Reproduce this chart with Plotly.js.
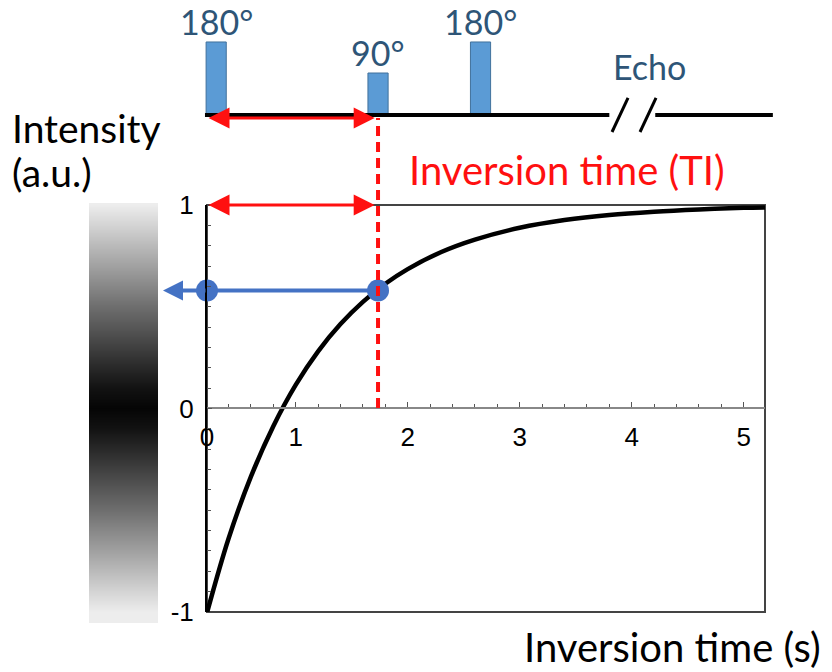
<!DOCTYPE html>
<html>
<head>
<meta charset="utf-8">
<script src="https://cdn.plot.ly/plotly-3.0.1.min.js"></script>
<style>html,body{margin:0;padding:0;background:#fff;}#chart{width:832px;height:672px;}</style>
</head>
<body>
<div id="chart"></div>
<script>
// ---- Recovery curve ----
const curveTime = [0.21, 0.4, 0.6, 0.8, 1.0, 1.2, 1.4, 1.6, 1.8, 2.0, 2.3, 2.6, 3.0, 3.4, 3.8, 4.2, 4.6, 5.0, 5.19];
const curveIntensity = [-1.0, -0.64, -0.335, -0.087, 0.116, 0.281, 0.415, 0.524, 0.613, 0.685, 0.769, 0.830, 0.888, 0.926, 0.951, 0.967, 0.978, 0.986, 0.988];

// ---- Chosen inversion time and its intensity ----
const axisStart = 0.208;
const axisEnd = 5.19;
const TI = 1.735;
const TIintensity = 0.58;
const readoutArrowTip = -0.185;

// ---- Axis tick labels ----
const xTickVals = [0.208, 1, 2, 3, 4, 5];
const xTickText = ['0', '1', '2', '3', '4', '5'];
const yTickVals = [-1, 0, 1];
const yTickText = ['-1', '0', '1'];

// ---- Pulse sequence ----
const pulseTime = [0.29, 1.735, 2.65];
const pulseHeight = [1, 0.575, 1];
const pulseLabels = ['180°', '90°', '180°'];
const timelineX = [0.19, 3.80, null, 4.21, 5.26];
const echoTime = 4.16;

// ---- Grey-scale bar (|intensity|) ----
const barLevels = [-1.06, -1.0, -0.9, -0.8, -0.7, -0.6, -0.5, -0.4, -0.3, -0.2, -0.1, 0, 0.1, 0.2, 0.3, 0.4, 0.5, 0.6, 0.7, 0.8, 0.9, 1.0, 1.01];

const blue = '#4472C4';
const red = '#FF1010';
const labelBlue = '#2E5577';
const FONT = 'Lato, "Open Sans", sans-serif';
const TICKFONT = 'Liberation Sans, Arial, sans-serif';

const barZ = barLevels.map(v => [Math.abs(v), Math.abs(v)]);

const traces = [
  {
    type: 'heatmap', xaxis: 'x2', yaxis: 'y2',
    x: [0, 1], y: barLevels, z: barZ,
    zmin: 0, zmax: 1, zsmooth: 'best', showscale: false,
    colorscale: [[0, '#050505'], [0.1, '#121212'], [0.5, '#6e6e6e'], [1, '#ededed']], hoverinfo: 'skip'
  },
  {
    type: 'scatter', mode: 'lines', x: curveTime, y: curveIntensity,
    line: {color: '#000', width: 4.5, shape: 'spline'}, hoverinfo: 'skip'
  },
  {
    type: 'scatter', mode: 'lines+markers', x: [axisStart, TI], y: [TIintensity, TIintensity],
    line: {color: blue, width: 4}, marker: {color: blue, size: 22},
    cliponaxis: false, hoverinfo: 'skip'
  },
  {
    type: 'bar', xaxis: 'x3', yaxis: 'y3', x: pulseTime, y: pulseHeight, width: 0.18,
    marker: {color: '#5B9BD5', line: {color: '#41719C', width: 1}}, hoverinfo: 'skip'
  },
  {
    type: 'scatter', mode: 'lines', xaxis: 'x3', yaxis: 'y3', x: timelineX, y: [0, 0, null, 0, 0],
    line: {color: '#000', width: 4}, connectgaps: false, hoverinfo: 'skip'
  },
  {
    type: 'scatter', mode: 'lines', xaxis: 'x3', yaxis: 'y3',
    x: [3.824, 3.967, null, 4.074, 4.217], y: [-0.233, 0.233, null, -0.233, 0.233],
    line: {color: '#000', width: 3}, hoverinfo: 'skip'
  }
];

function py(pixel) { return (672 - pixel) / 672; }

const annotations = [
  {xref: 'paper', yref: 'paper', x: 10 / 832, y: py(128), xanchor: 'left', yanchor: 'middle', text: 'Intensity', showarrow: false, font: {family: FONT, size: 39, color: '#000'}},
  {xref: 'paper', yref: 'paper', x: 10 / 832, y: py(172), xanchor: 'left', yanchor: 'middle', text: '(a.u.)', showarrow: false, font: {family: FONT, size: 39, color: '#000'}},
  {xref: 'paper', yref: 'paper', x: 567 / 832, y: py(170), xanchor: 'center', yanchor: 'middle', text: 'Inversion time (TI)', showarrow: false, font: {family: FONT, size: 40, color: red}},
  {xref: 'paper', yref: 'paper', x: 823 / 832, y: py(647), xanchor: 'right', yanchor: 'middle', text: 'Inversion time (s)', showarrow: false, font: {family: FONT, size: 40, color: '#000'}},
  {xref: 'x3', yref: 'y3', x: echoTime, y: 0.67, text: 'Echo', showarrow: false, xanchor: 'center', yanchor: 'middle', font: {family: FONT, size: 34, color: labelBlue}},
  // red arrow on timeline
  {xref: 'x3', yref: 'y3', axref: 'x3', ayref: 'y3', x: TI - 0.03, y: -0.04, ax: axisStart, ay: -0.04, text: '', showarrow: true,
   arrowside: 'end+start', arrowhead: 2, startarrowhead: 2, arrowsize: 1.4, startarrowsize: 1.4, arrowwidth: 3, arrowcolor: red, standoff: 0, startstandoff: 0},
  // red arrow inside plot at top
  {xref: 'x', yref: 'y', axref: 'x', ayref: 'y', x: TI - 0.03, y: 1, ax: axisStart, ay: 1, text: '', showarrow: true,
   arrowside: 'end+start', arrowhead: 2, startarrowhead: 2, arrowsize: 1.4, startarrowsize: 1.4, arrowwidth: 3, arrowcolor: red, standoff: 0, startstandoff: 0},
  // blue read-out arrow
  {xref: 'x3', yref: 'y', axref: 'x3', ayref: 'y', x: readoutArrowTip, y: TIintensity, ax: axisStart, ay: TIintensity, text: '', showarrow: true,
   arrowhead: 2, arrowsize: 1.0, arrowwidth: 4, arrowcolor: blue, standoff: 0}
];
pulseTime.forEach((t, i) => {
  annotations.push({xref: 'x3', yref: 'y3', x: t, y: pulseHeight[i], yshift: -1, text: pulseLabels[i], showarrow: false,
    xanchor: 'center', yanchor: 'bottom', borderpad: 0, font: {family: FONT, size: 34, color: labelBlue}});
});

const layout = {
  width: 832, height: 672,
  margin: {l: 0, r: 0, t: 0, b: 0},
  paper_bgcolor: '#fff', plot_bgcolor: 'rgba(0,0,0,0)',
  showlegend: false,
  xaxis: {
    domain: [207 / 832, 765 / 832], range: [axisStart, axisEnd], anchor: 'free', position: py(408),
    showline: true, linecolor: '#888', linewidth: 2, ticks: 'inside', ticklen: 5, tickcolor: '#555', tickwidth: 1,
    tickmode: 'array', tickvals: xTickVals, ticktext: xTickText, ticklabelstandoff: 6,
    tickfont: {family: TICKFONT, size: 26, color: '#000'},
    showgrid: false, zeroline: false,
    minor: {tickmode: 'linear', tick0: 0, dtick: 0.2, ticks: 'inside', ticklen: 3, tickcolor: '#555', showgrid: false}
  },
  yaxis: {
    domain: [py(612), py(205)], range: [-1, 1], anchor: 'x',
    showline: true, linecolor: '#000', linewidth: 2, ticks: 'inside', ticklen: 5, tickcolor: '#555',
    tickmode: 'array', tickvals: yTickVals, ticktext: yTickText, ticklabelstandoff: 6,
    tickfont: {family: TICKFONT, size: 26, color: '#000'},
    showgrid: false, zeroline: false,
    minor: {tickmode: 'linear', tick0: 0, dtick: 0.1, ticks: 'inside', ticklen: 4, tickcolor: '#555', showgrid: false}
  },
  xaxis2: {domain: [89 / 832, 158 / 832], range: [-0.5, 1.5], anchor: 'y2', visible: false, fixedrange: true},
  yaxis2: {domain: [py(623), py(203)], range: [-1.056, 1.007], anchor: 'x2', visible: false, fixedrange: true},
  xaxis3: {domain: [0, 1], range: [-1.640, 5.788], anchor: 'y3', visible: false, fixedrange: true},
  yaxis3: {domain: [py(168), 1], range: [-0.726, 1.575], anchor: 'x3', visible: false, fixedrange: true},
  shapes: [
    {type: 'rect', xref: 'x domain', yref: 'y domain', x0: 0, x1: 1, y0: 0, y1: 1, line: {color: '#444', width: 2}, layer: 'below'},
    {type: 'line', xref: 'x', yref: 'paper', x0: TI, x1: TI, y0: py(408), y1: py(118), line: {color: red, width: 4, dash: '10px,6px'}}
  ],
  annotations: annotations
};

Plotly.newPlot('chart', traces, layout, {staticPlot: true, displayModeBar: false});
</script>
</body>
</html>
